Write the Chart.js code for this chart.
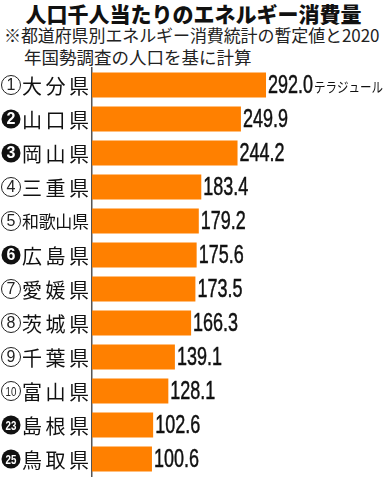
<!DOCTYPE html>
<html>
<head>
<meta charset="utf-8">
<script src="https://cdn.jsdelivr.net/npm/chart.js@4"></script>
<style>
  body { margin: 0; width: 387px; height: 477px; background: #fff; overflow: hidden; position: relative; font-family: "Noto Sans CJK JP", sans-serif; }
  .title { position: absolute; top: 0; left: 0; width: 387px; text-align: center; font-size: 21px; font-weight: 900; line-height: 26px; color: #111; }
  .note { position: absolute; left: 4px; font-size: 17px; line-height: 20px; color: #222; white-space: nowrap; }
  .chart-parent { position: absolute; left: 0; top: 66px; width: 387px; height: 411px; }
</style>
</head>
<body>
<div class="title">人口千人当たりのエネルギー消費量</div>
<div class="note" style="top:25px;letter-spacing:-0.1px">※都道府県別エネルギー消費統計の暫定値と2020</div>
<div class="note" style="top:47px;left:24px;font-size:17.5px">年国勢調査の人口を基に計算</div>
<div class="chart-parent">
  <canvas id="myChart"></canvas>
</div>
<script>
const prefectures = ['大分県', '山口県', '岡山県', '三重県', '和歌山県', '広島県', '愛媛県', '茨城県', '千葉県', '富山県', '島根県', '鳥取県'];
const ranks = ['1', '2', '3', '4', '5', '6', '7', '8', '9', '10', '23', '25'];
const rankFilled = [false, true, true, false, false, true, false, false, false, false, true, true];
const energy = [292.0, 249.9, 244.2, 183.4, 179.2, 175.6, 173.5, 166.3, 139.1, 128.1, 102.6, 100.6];
const unitLabel = 'テラジュール';

const labelPlugin = {
  id: 'labels',
  afterDraw(chart) {
    const ctx = chart.ctx;
    const y = chart.scales.y;
    const meta = chart.getDatasetMeta(0);
    ctx.save();
    ctx.textBaseline = 'middle';
    // condensed look for the numbers
    ctx.font = '26px "Liberation Sans", sans-serif';
    const sx = 45 / ctx.measureText('292.0').width;
    prefectures.forEach((name, i) => {
      const cy = y.getPixelForValue(i);
      // rank mark
      const cx = 11, r = 9.5;
      ctx.beginPath();
      ctx.arc(cx, cy, r, 0, Math.PI * 2);
      const two = ranks[i].length > 1;
      if (rankFilled[i]) {
        ctx.fillStyle = '#111';
        ctx.fill();
        ctx.fillStyle = '#fff';
        ctx.font = 'bold ' + (two ? 13 : 16) + 'px "Liberation Sans", sans-serif';
      } else {
        ctx.strokeStyle = '#222';
        ctx.lineWidth = 1;
        ctx.stroke();
        ctx.fillStyle = '#222';
        ctx.font = (two ? 13 : 16) + 'px "Liberation Sans", sans-serif';
      }
      ctx.textAlign = 'center';
      ctx.save();
      ctx.translate(cx, cy + 1);
      if (two) ctx.scale(0.75, 1);
      ctx.fillText(ranks[i], 0, 0);
      ctx.restore();

      // prefecture name, spread across the label column
      const chars = [...name];
      const size = chars.length > 3 ? 17 : 20;
      ctx.font = size + 'px "Noto Sans CJK JP", sans-serif';
      ctx.fillStyle = '#111';
      const left = 22, right = 89;
      const step = (right - left - size) / (chars.length - 1);
      chars.forEach((c, k) => {
        ctx.fillText(c, left + size / 2 + k * step, cy + 1);
      });

      // value label
      const bar = meta.data[i];
      const vx = bar.x + 2;
      const txt = energy[i].toFixed(1);
      ctx.save();
      ctx.translate(vx, cy + 1);
      ctx.scale(sx, 1);
      ctx.textAlign = 'left';
      ctx.font = '26px "Liberation Sans", sans-serif';
      ctx.fillStyle = '#111';
      ctx.strokeStyle = '#111';
      ctx.lineWidth = 0.5;
      ctx.fillText(txt, 0, 0);
      ctx.strokeText(txt, 0, 0);
      const w = ctx.measureText(txt).width;
      ctx.restore();
      if (i === 0) {
        ctx.save();
        ctx.translate(vx + w * sx + 1, cy + 2);
        ctx.font = '14px "Noto Sans CJK JP", sans-serif';
        const uw = ctx.measureText(unitLabel).width;
        ctx.scale(69 / uw, 1);
        ctx.textAlign = 'left';
        ctx.fillText(unitLabel, 0, 0);
        ctx.restore();
      }
    });
    ctx.restore();
  }
};

new Chart(document.getElementById('myChart'), {
  type: 'bar',
  data: {
    labels: prefectures,
    datasets: [{
      data: energy,
      backgroundColor: '#ff8000',
      borderWidth: 0,
      categoryPercentage: 1,
      barPercentage: 0.74
    }]
  },
  options: {
    indexAxis: 'y',
    responsive: true,
    maintainAspectRatio: false,
    animation: false,
    layout: { padding: { top: 2, bottom: 1, left: 0, right: 0 } },
    plugins: { legend: { display: false }, tooltip: { enabled: false } },
    scales: {
      x: { display: false, min: 0, max: 495 },
      y: {
        grid: { display: false, drawTicks: false },
        ticks: { display: false },
        border: { display: true, color: '#555', width: 1.5 },
        afterFit(scale) { scale.width = 92; }
      }
    }
  },
  plugins: [labelPlugin]
});
</script>
</body>
</html>
